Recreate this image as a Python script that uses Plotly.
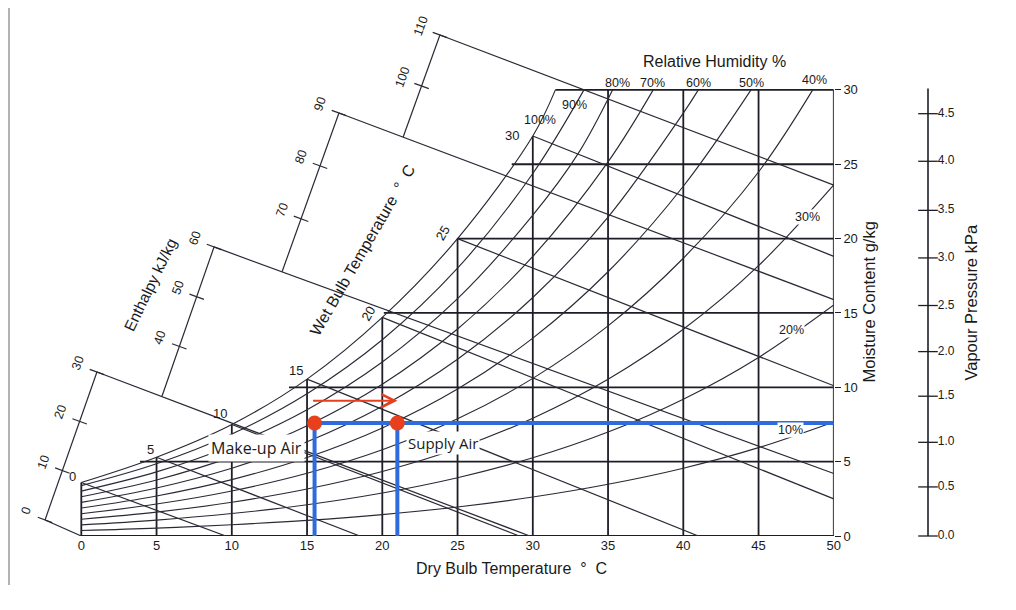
import plotly.graph_objects as go

# ---------------- values ----------------
db_ticks = [0, 5, 10, 15, 20, 25, 30, 35, 40, 45, 50]        # dry bulb, deg C
mc_ticks = [0, 5, 10, 15, 20, 25, 30]                          # moisture, g/kg

# saturation curve (100 % RH)
sat_T = [0, 5, 10, 15, 20, 25, 30, 31.5]
sat_w = [3.6, 5.3, 7.5, 10.55, 14.7, 20.0, 26.9, 30.0]
# dry bulb where each moisture line leaves the saturation curve
mc_start_T = [0, 3.9, 13.8, 20.1, 25.0, 28.6, 31.5]

# relative humidity curves
rh_T = [0, 5, 10, 15, 20, 25, 30, 35, 40, 45, 50]
rh90_T = [0, 5, 10, 15, 20, 25, 30, 33.4]
rh90_w = [3.39, 4.86, 6.86, 9.57, 13.20, 18.01, 24.38, 30.0]
rh80_T = [0, 5, 10, 15, 20, 25, 30, 33, 35.3]
rh80_w = [3.02, 4.31, 6.09, 8.49, 11.70, 15.96, 21.58, 25.7, 30.0]
rh70_T = [0, 5, 10, 15, 20, 25, 30, 35, 38.0]
rh70_w = [2.64, 3.77, 5.32, 7.42, 10.21, 13.92, 18.80, 25.16, 30.0]
rh60_T = [0, 5, 10, 15, 20, 25, 30, 35, 40, 41.0]
rh60_w = [2.26, 3.23, 4.56, 6.34, 8.73, 11.89, 16.04, 21.45, 28.44, 30.0]
rh50_T = [0, 5, 10, 15, 20, 25, 30, 35, 40, 44.5]
rh50_w = [1.88, 2.69, 3.79, 5.28, 7.27, 9.88, 13.31, 17.77, 23.52, 30.0]
rh40_T = [0, 5, 10, 15, 20, 25, 30, 35, 40, 45, 48.6]
rh40_w = [1.50, 2.15, 3.03, 4.22, 5.80, 7.88, 10.60, 14.13, 18.68, 24.48, 30.0]
rh30_w = [1.13, 1.61, 2.27, 3.16, 4.34, 5.89, 7.92, 10.54, 13.90, 18.18, 23.61]
rh20_w = [0.75, 1.07, 1.51, 2.10, 2.89, 3.92, 5.26, 6.99, 9.20, 12.01, 15.54]
rh10_w = [0.37, 0.53, 0.76, 1.05, 1.44, 1.95, 2.62, 3.48, 4.56, 5.94, 7.67]

rh_labels = ['100%', '90%', '80%', '70%', '60%', '50%', '40%', '30%', '20%', '10%']
rh_label_T = [30.48, 32.80, 35.6, 37.98, 40.98, 44.56, 48.74, 48.22, 47.22, 47.09]
rh_label_w = [27.98, 28.98, 30.46, 30.46, 30.46, 30.46, 30.67, 21.45, 13.85, 7.13]

# wet bulb lines (start on the saturation curve)
wb_vals = [0, 5, 10, 15, 20, 25, 30]
wb_end_T = [9.6, 18.5, 29.1, 41.0, 50, 50, 50]
wb_end_w = [0, 0, 0, 0, 2.5, 10.1, 18.8]

# enthalpy lines drawn from the stepped scale
enth_line_vals = [0, 30, 60, 90, 110]
enth_T0 = [-2.41, 1.04, 8.82, 17.12, 23.83]
enth_w0 = [1.08, 11.03, 19.44, 28.45, 33.69]
enth_T1 = [0, 29.8, 50, 50, 50]
enth_w1 = [0, 0, 4.2, 15.9, 23.6]

# stepped enthalpy scale, kJ/kg
enth_scale_vals = [0, 10, 20, 30, 40, 50, 60, 70, 80, 90, 100, 110]
enth_scale_T = [-2.41, -1.26, -0.11, 1.04, 6.51, 7.67, 8.82, 14.60, 15.86, 17.12, 22.61, 23.83]
enth_scale_w = [1.08, 4.40, 7.71, 11.03, 12.75, 16.09, 19.44, 21.33, 24.89, 28.45, 30.26, 33.69]
seg_lo_T = [-2.41, 5.36, 13.34, 21.38]
seg_lo_w = [1.08, 9.40, 17.77, 26.82]
seg_hi_T = [1.04, 8.82, 17.12, 23.83]
seg_hi_w = [11.03, 19.44, 28.45, 33.69]

# vapour pressure scale (kPa) and matching moisture content
vp_labels = ['0.0', '0.5', '1.0', '1.5', '2.0', '2.5', '3.0', '3.5', '4.0', '4.5']
vp_w = [0, 3.3, 6.3, 9.4, 12.4, 15.5, 18.7, 21.9, 25.2, 28.4]
vp_top_w = 30.1

# process
makeup_T, makeup_w = 15.5, 7.6
supply_T, supply_w = 21.0, 7.6
arrow_T0, arrow_T1, arrow_w = 15.3, 21.0, 9.1

# ---------------- layout geometry (page pixels) ----------------
W, H = 1016, 610
OFF = 8                      # default page margin of the html body
ML, MR, MT, MB = 10, 40, 15, 74
PW, PH = W - ML - MR, H - MT - MB
PX0, SX = 81.3, 15.05      # pixel of 0 degC, px per degC
PY0, SY = 536.0, 14.87     # pixel of 0 g/kg, px per g/kg
x_lo, x_hi = (ML - PX0) / SX, 50
y_hi = (PY0 - MT) / SY
dom_x1 = (PX0 + x_hi * SX - ML) / PW

wb_label_dx = [-9, -6, -12, -11, -14, -15, -21]
wb_label_dy = [6, 8, 11, 9, 4, 5, 1]
wb_label_angle = [0, 0, 0, 0, -60, -60, 0]

LINE = '#1d1d27'
CURVE = '#2a2a36'
TXT = '#1a1a1a'
FONT = 'Liberation Sans, Arial, sans-serif'
HUM = 'Open Sans, Noto Sans, sans-serif'
BLUE = '#2f6bdc'
RED = '#e8401c'

fig = go.Figure()


def segs(x0s, y0s, x1s, y1s):
    xs, ys = [], []
    for a, b, c, d in zip(x0s, y0s, x1s, y1s):
        xs += [a, c, None]
        ys += [b, d, None]
    return xs, ys


# grid
sat_at = dict(zip(sat_T, sat_w))
gx, gy = segs(db_ticks, [0] * len(db_ticks), db_ticks, [sat_at.get(t, 30.0) for t in db_ticks])
hx, hy = segs(mc_start_T, mc_ticks, [50] * len(mc_ticks), mc_ticks)
fig.add_trace(go.Scatter(x=gx + hx, y=gy + hy, mode='lines',
                         line=dict(color=LINE, width=1.8), hoverinfo='skip'))

# RH curves
curves = [(sat_T, sat_w), (rh90_T, rh90_w), (rh80_T, rh80_w), (rh70_T, rh70_w),
          (rh60_T, rh60_w), (rh50_T, rh50_w), (rh40_T, rh40_w),
          (rh_T, rh30_w), (rh_T, rh20_w), (rh_T, rh10_w)]
for cx, cy in curves:
    fig.add_trace(go.Scatter(x=cx, y=cy, mode='lines', line_shape='spline',
                             line=dict(color=CURVE, width=1.15), hoverinfo='skip'))

# wet bulb lines
wx, wy = segs(wb_vals, [sat_at[v] for v in wb_vals], wb_end_T, wb_end_w)
fig.add_trace(go.Scatter(x=wx, y=wy, mode='lines', line=dict(color=CURVE, width=1.2),
                         hoverinfo='skip'))
# enthalpy lines
ex, ey = segs(enth_T0, enth_w0, enth_T1, enth_w1)
fig.add_trace(go.Scatter(x=ex, y=ey, mode='lines', line=dict(color=CURVE, width=1.2),
                         hoverinfo='skip'))
# enthalpy scale
sx_, sy_ = segs(seg_lo_T, seg_lo_w, seg_hi_T, seg_hi_w)
fig.add_trace(go.Scatter(x=sx_, y=sy_, mode='lines', line=dict(color=CURVE, width=1.2),
                         hoverinfo='skip'))
fig.add_trace(go.Scatter(x=enth_scale_T, y=enth_scale_w, mode='markers',
                         marker=dict(symbol='line-ew', size=11, angle=20,
                                     line=dict(width=1.2, color=CURVE)),
                         hoverinfo='skip'))

# process lines
fig.add_trace(go.Scatter(x=[makeup_T, makeup_T, None, supply_T, supply_T, None, makeup_T, 50],
                         y=[0, makeup_w, None, 0, supply_w, None, makeup_w, supply_w],
                         mode='lines', line=dict(color=BLUE, width=4), hoverinfo='skip'))
fig.add_trace(go.Scatter(x=[makeup_T, supply_T], y=[makeup_w, supply_w], mode='markers',
                         marker=dict(color=RED, size=15), hoverinfo='skip'))

# vapour pressure scale
fig.add_trace(go.Scatter(x=[0, 0], y=[0, vp_top_w], xaxis='x2', yaxis='y2', mode='lines',
                         line=dict(color=LINE, width=1.6), hoverinfo='skip'))
fig.add_trace(go.Scatter(x=[0] * len(vp_w), y=vp_w, xaxis='x2', yaxis='y2',
                         mode='markers+text', text=vp_labels, textposition='middle right',
                         textfont=dict(size=12, color=TXT, family=FONT), cliponaxis=False,
                         marker=dict(symbol='line-ew', size=14, line=dict(width=1.3, color=LINE)),
                         hoverinfo='skip'))

ann = []
for v, dx, dy, a in zip(wb_vals, wb_label_dx, wb_label_dy, wb_label_angle):
    ann.append(dict(x=v, y=sat_at[v], text=str(v), showarrow=False, xshift=dx, yshift=dy,
                    textangle=a, font=dict(size=13, color=TXT, family=FONT)))
for v, t, w in zip(enth_scale_vals, enth_scale_T, enth_scale_w):
    ann.append(dict(x=t, y=w, text=str(v), showarrow=False, xshift=-19, yshift=9,
                    textangle=-70, font=dict(size=12.5, color=TXT, family=FONT)))
for i, (s, t, w) in enumerate(zip(rh_labels, rh_label_T, rh_label_w)):
    ann.append(dict(x=t, y=w, text=s, showarrow=False,
                    bgcolor='white' if i >= 7 else 'rgba(0,0,0,0)', borderpad=0,
                    font=dict(size=12.5, color=TXT, family=FONT)))

ann += [
    dict(x=42.1, y=31.88, text='Relative Humidity %', showarrow=False,
         font=dict(size=16, color=TXT, family=FONT)),
    dict(x=(880 - ML) / PW, xref='paper', y=15.7, text='Moisture Content g/kg', showarrow=False,
         textangle=-90, font=dict(size=16.5, color=TXT, family=FONT)),
    dict(x=(982 - ML) / PW, xref='paper', y=15.7, text='Vapour Pressure kPa', showarrow=False,
         textangle=-90, font=dict(size=16.5, color=TXT, family=FONT)),
    dict(x=28.6, y=(PY0 - 568) / PH, yref='paper', yanchor='middle',
         text='Dry Bulb Temperature  \u00b0  C',
         showarrow=False, font=dict(size=16, color=TXT, family=FONT)),
    dict(x=4.6, y=16.9, text='Enthalpy kJ/kg', showarrow=False, textangle=-64,
         font=dict(size=15.5, color=TXT, family=FONT)),
    dict(x=18.65, y=19.23, text='Wet Bulb Temperature  \u00b0  C', showarrow=False, textangle=-60,
         font=dict(size=16, color=TXT, family=FONT)),
    dict(x=11.67, y=5.92, text='Make-up Air', showarrow=False, bgcolor='white', borderpad=2,
         font=dict(size=16, color=TXT, family=HUM)),
    dict(x=24.03, y=6.25, text='Supply Air', showarrow=False, bgcolor='white', borderpad=1,
         font=dict(size=15, color=TXT, family=HUM)),
    dict(x=arrow_T1, y=arrow_w, ax=arrow_T0, ay=arrow_w, axref='x', ayref='y', text='',
         showarrow=True, arrowhead=5, arrowsize=1.3, arrowwidth=2, arrowcolor=RED),
]

# scanned page edges
shapes = [
    dict(type='line', xref='paper', yref='paper', x0=(9 - ML) / PW, y0=(PY0 - 6) / PH,
         x1=(W - ML) / PW, y1=(PY0 - 4) / PH, line=dict(color='#777', width=1)),
    dict(type='line', xref='paper', yref='paper', x0=(9 - ML) / PW, y0=(PY0 - 6) / PH,
         x1=(9 - ML) / PW, y1=(PY0 - 585) / PH, line=dict(color='#666', width=1)),
]

fig.update_layout(
    width=W - OFF, height=H - OFF,
    margin=dict(l=ML - OFF, r=MR, t=MT - OFF, b=MB, autoexpand=False),
    plot_bgcolor='white', paper_bgcolor='white', showlegend=False,
    font=dict(family=FONT, color=TXT),
    xaxis=dict(domain=[0, dom_x1], range=[x_lo, x_hi], tickvals=db_ticks, ticks='',
               showgrid=False, zeroline=False, showline=False,
               tickfont=dict(size=13, color=TXT, family=FONT)),
    yaxis=dict(domain=[0, 1], range=[0, y_hi], side='right', tickvals=mc_ticks,
               ticks='outside', ticklen=6, tickcolor=LINE, showgrid=False, zeroline=False,
               showline=False, tickfont=dict(size=13, color=TXT, family=FONT)),
    xaxis2=dict(domain=[(918 - ML) / PW, (938 - ML) / PW], range=[-1, 1], anchor='y2',
                visible=False),
    yaxis2=dict(domain=[0, 1], range=[0, y_hi], anchor='x2', visible=False),
    annotations=ann, shapes=shapes,
)

fig.write_html('out.html')
